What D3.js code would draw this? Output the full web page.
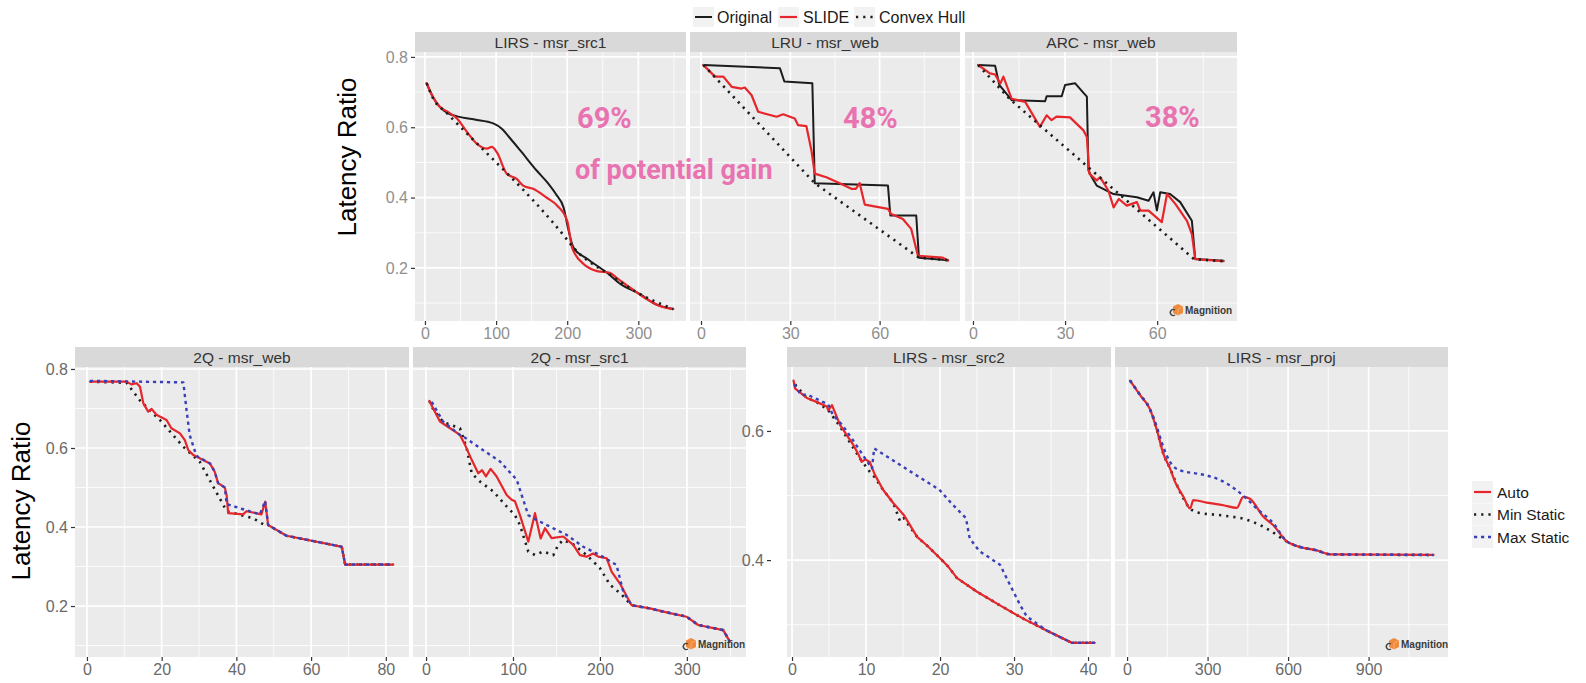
<!DOCTYPE html>
<html>
<head>
<meta charset="utf-8">
<script src="https://cdn.jsdelivr.net/npm/d3@7"></script>
<style>
body { margin:0; background:#fff; }
svg { display:block; font-family: "Liberation Sans", Arial, sans-serif; }
</style>
</head>
<body>
<svg width="1586" height="683"></svg>
<script>
// ---- top row: Original / SLIDE / Convex Hull ----
var lirsSrc1Original = [[2.4,0.725],[11,0.687],[20,0.66],[32,0.64],[45,0.631],[70,0.622],[96,0.611],[108,0.596],[120,0.568],[134,0.534],[157,0.477],[172,0.443],[184,0.41],[195,0.371],[201,0.314],[209,0.257],[228,0.226],[256,0.186],[275,0.154],[303,0.125],[321,0.1],[349,0.083]];
var lirsSrc1Slide = [[2.4,0.725],[11,0.687],[20,0.66],[31,0.645],[45,0.625],[59,0.587],[73,0.553],[87,0.539],[94,0.544],[101,0.529],[115,0.468],[129,0.453],[138,0.434],[152,0.425],[171,0.40],[186,0.377],[200,0.334],[207,0.257],[223,0.211],[242,0.191],[260,0.186],[270,0.171],[289,0.143],[312,0.111],[331,0.091],[349,0.083]];
var lirsSrc1Hull = [[2.4,0.725],[12,0.68],[30,0.642],[200,0.28],[209,0.257],[228,0.222],[256,0.186],[300,0.128],[349,0.083]];

var lruWebOriginal = [[0.8,0.777],[26.5,0.768],[28,0.73],[37.4,0.725],[38.2,0.441],[62.8,0.434],[63.6,0.349],[72.3,0.349],[73.2,0.229],[83,0.222]];
var lruWebSlide = [[0.8,0.777],[1.5,0.771],[4.7,0.744],[7.5,0.744],[10.3,0.715],[13.6,0.71],[14.7,0.713],[17,0.691],[19.2,0.644],[25.4,0.63],[27.6,0.637],[31.5,0.625],[32.6,0.606],[35.4,0.603],[37.1,0.534],[38.2,0.468],[42.1,0.458],[46.6,0.441],[50.5,0.425],[52,0.425],[53.3,0.441],[55,0.38],[62.8,0.368],[63.9,0.353],[67.8,0.339],[70.6,0.311],[72.9,0.234],[81.2,0.229],[83,0.221]];
var lruWebHull = [[0.8,0.777],[4.4,0.745],[38.2,0.441],[73.2,0.229],[83,0.222]];

var arcWebOriginal = [[1.7,0.777],[7.2,0.775],[8.6,0.72],[9.9,0.706],[12.6,0.677],[23.5,0.674],[24,0.688],[28.9,0.688],[30,0.72],[33.3,0.725],[36,0.698],[37.1,0.687],[37.6,0.477],[38.7,0.458],[40.3,0.434],[45.8,0.41],[53.4,0.401],[57.2,0.391],[58.8,0.415],[59.9,0.363],[61,0.415],[64.2,0.41],[67.5,0.387],[71.3,0.334],[72.4,0.225],[81.6,0.22]];
var arcWebSlide = [[1.7,0.777],[5.5,0.753],[7.2,0.75],[8.9,0.724],[9.9,0.744],[12.6,0.681],[17,0.672],[21.8,0.601],[24,0.634],[25.6,0.62],[27.2,0.63],[31.6,0.628],[36,0.591],[37.1,0.572],[37.9,0.468],[40.3,0.449],[41.4,0.458],[44.1,0.42],[45.8,0.372],[47.5,0.396],[50.1,0.377],[53.4,0.387],[54.5,0.363],[57.2,0.363],[61.5,0.33],[63.2,0.41],[65.9,0.382],[69.7,0.334],[71.3,0.296],[72.4,0.225],[81.6,0.219]];
var arcWebHull = [[1.7,0.777],[12,0.68],[72,0.225],[81.6,0.219]];

// ---- bottom row: Auto / Min Static / Max Static ----
var q2WebAuto = [[0.8,0.768],[10.6,0.768],[11.9,0.761],[13.3,0.764],[14.2,0.755],[15.1,0.713],[16.4,0.692],[17.3,0.699],[18.6,0.684],[21.3,0.671],[22.6,0.65],[24.9,0.637],[26.2,0.62],[27.1,0.595],[28.5,0.582],[32.9,0.561],[34.2,0.54],[35.1,0.511],[36.9,0.5],[37.4,0.48],[37.8,0.435],[41.8,0.432],[42.7,0.44],[46.7,0.432],[47.7,0.464],[48.5,0.405],[53.4,0.378],[68.2,0.35],[69.1,0.305],[82,0.305]];
var q2WebMin = [[0.8,0.768],[10.6,0.765],[14.2,0.72],[19.5,0.671],[25.8,0.603],[30.2,0.565],[37.4,0.44],[44.5,0.422],[48.1,0.402],[48.5,0.405],[53.4,0.378],[68.2,0.35],[69.1,0.305],[82,0.305]];
var q2WebMax = [[0.8,0.77],[25.8,0.766],[26.7,0.692],[27.5,0.633],[29.3,0.58],[32.9,0.561],[34.2,0.54],[35.1,0.511],[36.9,0.5],[37.4,0.458],[41.8,0.445],[46.3,0.432],[47.7,0.466],[48.5,0.405],[53.4,0.378],[68.2,0.35],[69.1,0.305],[82,0.305]];

var q2Src1Auto = [[3.8,0.719],[16,0.667],[27.6,0.65],[39,0.633],[44.8,0.608],[52.5,0.57],[60,0.536],[64.4,0.544],[68.9,0.528],[74.3,0.547],[81.2,0.528],[92.7,0.481],[98.5,0.469],[102.3,0.465],[108,0.43],[117.6,0.363],[125.3,0.435],[131.8,0.371],[136.8,0.397],[144.4,0.372],[157.8,0.376],[169.3,0.355],[177,0.329],[184.7,0.325],[192.3,0.333],[198,0.325],[207.7,0.321],[213.4,0.287],[223,0.257],[236.4,0.202],[257.5,0.194],[276.6,0.184],[299.6,0.173],[313,0.152],[341.8,0.139],[349.4,0.11]];
var q2Src1Min = [[3.8,0.719],[8.4,0.697],[20,0.665],[39,0.65],[46.7,0.6],[52.5,0.536],[62,0.515],[77.4,0.49],[92.7,0.452],[102.3,0.43],[108,0.405],[117.6,0.338],[125.3,0.329],[134.9,0.338],[146.4,0.329],[152.1,0.355],[157.9,0.367],[170,0.355],[184.7,0.329],[200,0.296],[211.5,0.254],[224.9,0.229],[236.4,0.202],[257.5,0.194],[276.6,0.184],[299.6,0.173],[313,0.152],[341.8,0.139],[349.4,0.11]];
var q2Src1Max = [[6.5,0.717],[19.5,0.667],[39,0.633],[42.8,0.629],[62,0.6],[85,0.566],[104.2,0.52],[110,0.481],[117.6,0.43],[123.4,0.422],[142.5,0.401],[161.7,0.38],[180.8,0.35],[200,0.329],[219,0.304],[226.8,0.237],[236.4,0.202],[257.5,0.194],[276.6,0.184],[299.6,0.173],[313,0.152],[341.8,0.139],[349.4,0.11]];

var lirsSrc2Auto = [[0.2,0.678],[0.4,0.666],[2,0.651],[3.3,0.645],[4.7,0.638],[4.9,0.632],[5.4,0.64],[6.5,0.609],[8.3,0.578],[9,0.563],[9.4,0.552],[9.9,0.556],[10.5,0.552],[11.2,0.532],[12.3,0.509],[13.7,0.488],[15.1,0.47],[16.9,0.436],[18.2,0.423],[20,0.403],[21.1,0.39],[22.3,0.372],[25,0.351],[28.1,0.33],[31.3,0.309],[34.4,0.291],[37.8,0.272],[40.9,0.272]];
var lirsSrc2Min = [[0.4,0.672],[2,0.651],[3.3,0.645],[4.9,0.632],[6.3,0.61],[9.2,0.557],[10.5,0.537],[11.2,0.528],[12.3,0.509],[13.7,0.488],[14.6,0.46],[15.1,0.465],[16.9,0.436],[18.2,0.423],[20,0.403],[21.1,0.39],[22.3,0.372],[25,0.351],[28.1,0.33],[31.3,0.309],[34.4,0.291],[37.8,0.272],[40.9,0.272]];
var lirsSrc2Max = [[0.3,0.672],[1.2,0.656],[2.1,0.656],[4.9,0.641],[5.5,0.625],[6.8,0.609],[8.1,0.588],[9.9,0.557],[10.8,0.542],[11.1,0.573],[16.7,0.532],[19.9,0.509],[21.7,0.486],[23.5,0.465],[24,0.434],[25.3,0.414],[28.1,0.393],[29,0.372],[30.8,0.331],[31.7,0.313],[34.4,0.291],[37.8,0.272],[40.9,0.272]];

var lirsProjAuto = [[11,0.678],[48,0.656],[86,0.633],[112,0.6],[135,0.565],[160,0.542],[178,0.522],[210,0.498],[235,0.48],[247,0.493],[297,0.489],[359,0.485],[409,0.481],[433,0.498],[458,0.495],[508,0.467],[545,0.454],[595,0.429],[632,0.422],[707,0.415],[757,0.409],[1142,0.408]];
var lirsProjMin = [[11,0.678],[48,0.656],[86,0.633],[112,0.6],[135,0.565],[160,0.542],[197,0.506],[235,0.48],[260,0.474],[359,0.469],[433,0.464],[470,0.459],[532,0.446],[595,0.429],[632,0.422],[707,0.415],[757,0.409],[1142,0.408]];
var lirsProjMax = [[11,0.678],[48,0.656],[86,0.633],[112,0.605],[131,0.58],[160,0.552],[197,0.539],[260,0.534],[297,0.531],[347,0.524],[409,0.508],[446,0.495],[483,0.48],[545,0.457],[595,0.429],[632,0.422],[707,0.415],[757,0.409],[1142,0.408]];

// ---- tick labels / legends ----
var yTicksTop = [0.2, 0.4, 0.6, 0.8];
var yTicksBottomRight = [0.4, 0.6];
var topLegend = ["Original", "SLIDE", "Convex Hull"];
var bottomLegend = ["Auto", "Min Static", "Max Static"];
var gains = ["69%", "48%", "38%"];

var RED = "#e6262a", BLACK = "#1c1c1c", BLUE = "#3b3fb8";
var styles = {
	solidBlack: { stroke: BLACK, width: 2, dash: null },
	solidRed:   { stroke: RED, width: 2.2, dash: null },
	dotBlack:   { stroke: BLACK, width: 2.6, dash: "2.2,5" },
	dotBlue:    { stroke: BLUE, width: 2.4, dash: "3.2,3.8" }
};

var rows = {
	top: { y0: 52, y1: 321, yd: [0.049, 0.814], yt: yTicksTop, ym: [0.1, 0.3, 0.5, 0.7], lab: "#8f8f8f" },
	bl:  { y0: 367, y1: 657, yd: [0.071, 0.805], yt: yTicksTop, ym: [0.1, 0.3, 0.5, 0.7], lab: "#6a6a6a" },
	br:  { y0: 367, y1: 657, yd: [0.25, 0.699], yt: yTicksBottomRight, ym: [0.3, 0.5], lab: "#6a6a6a" }
};

var panels = [
	{ title: "LIRS - msr_src1", row: "top", x0: 415, x1: 686, xd: [-14, 367], xt: [0,100,200,300], xm: [50,150,250,350],
	  series: [[lirsSrc1Original,"solidBlack"],[lirsSrc1Slide,"solidRed"],[lirsSrc1Hull,"dotBlack"]], yaxis: 415, smooth: true },
	{ title: "LRU - msr_web", row: "top", x0: 690, x1: 960, xd: [-3.7, 87], xt: [0,30,60], xm: [15,45,75],
	  series: [[lruWebOriginal,"solidBlack"],[lruWebSlide,"solidRed"],[lruWebHull,"dotBlack"]] },
	{ title: "ARC - msr_web", row: "top", x0: 965, x1: 1237, xd: [-2.6, 86], xt: [0,30,60], xm: [15,45,75],
	  series: [[arcWebOriginal,"solidBlack"],[arcWebSlide,"solidRed"],[arcWebHull,"dotBlack"]], logo: [1173, 310] },
	{ title: "2Q - msr_web", row: "bl", x0: 75, x1: 409, xd: [-3.2, 86.2], xt: [0,20,40,60,80], xm: [10,30,50,70],
	  series: [[q2WebMin,"dotBlack"],[q2WebAuto,"solidRed"],[q2WebMax,"dotBlue"]], yaxis: 75 },
	{ title: "2Q - msr_src1", row: "bl", x0: 413, x1: 746, xd: [-15, 368], xt: [0,100,200,300], xm: [50,150,250,350],
	  series: [[q2Src1Min,"dotBlack"],[q2Src1Auto,"solidRed"],[q2Src1Max,"dotBlue"]], logo: [686, 644] },
	{ title: "LIRS - msr_src2", row: "br", x0: 787, x1: 1111, xd: [-0.68, 43.1], xt: [0,10,20,30,40], xm: [5,15,25,35],
	  series: [[lirsSrc2Min,"dotBlack"],[lirsSrc2Auto,"solidRed"],[lirsSrc2Max,"dotBlue"]], yaxis: 771 },
	{ title: "LIRS - msr_proj", row: "br", x0: 1115, x1: 1448, xd: [-45, 1196], xt: [0,300,600,900], xm: [150,450,750,1050],
	  series: [[lirsProjMin,"dotBlack"],[lirsProjAuto,"solidRed"],[lirsProjMax,"dotBlue"]], logo: [1389, 644], smooth: true }
];

var svg = d3.select('svg');

function drawLogo(g, x, y){
	// little orange cube + dark hook, then the word
	g.append("path")
		.attr("d", "M" + (x+5) + "," + (y-6) + " l5,2.5 v6.5 l-5,2.5 l-5,-2.5 v-6.5 z")
		.attr("fill", "#f08a3c");
	g.append("path")
		.attr("d", "M" + (x+5) + "," + (y-1) + " l5,-2.5 M" + (x+5) + "," + (y-1) + " v6")
		.attr("stroke", "#f7b27a").attr("stroke-width", 0.8);
	g.append("path")
		.attr("d", "M" + (x+2) + "," + (y+5) + " a3,3 0 1,1 0,-5")
		.attr("fill", "none").attr("stroke", "#444").attr("stroke-width", 1.4);
	g.append("text").attr("x", x + 12).attr("y", y + 3.5)
		.attr("font-size", 10).attr("font-weight", "bold").attr("fill", "#3a3a3a")
		.text("Magnition");
}

panels.forEach(function(p){
	var r = rows[p.row];
	var x = d3.scaleLinear().domain(p.xd).range([p.x0, p.x1]);
	var y = d3.scaleLinear().domain(r.yd).range([r.y1, r.y0]);
	var g = svg.append("g");

	// panel + strip
	g.append("rect").attr("x", p.x0).attr("y", r.y0).attr("width", p.x1 - p.x0).attr("height", r.y1 - r.y0).attr("fill", "#ebebeb");
	g.append("rect").attr("x", p.x0).attr("y", r.y0 - 20).attr("width", p.x1 - p.x0).attr("height", 20).attr("fill", "#d9d9d9");
	g.append("text").attr("x", (p.x0 + p.x1) / 2).attr("y", r.y0 - 10).attr("dy", "0.36em")
		.attr("text-anchor", "middle").attr("font-size", 15.5).attr("fill", "#333").text(p.title);

	// grid
	g.selectAll(".xm").data(p.xm).enter().append("line")
		.attr("x1", x).attr("x2", x).attr("y1", r.y0).attr("y2", r.y1).attr("stroke", "#fff").attr("stroke-width", 0.8);
	g.selectAll(".ym").data(r.ym).enter().append("line")
		.attr("y1", y).attr("y2", y).attr("x1", p.x0).attr("x2", p.x1).attr("stroke", "#fff").attr("stroke-width", 0.8);
	g.selectAll(".xg").data(p.xt).enter().append("line")
		.attr("x1", x).attr("x2", x).attr("y1", r.y0).attr("y2", r.y1).attr("stroke", "#fff").attr("stroke-width", 1.7);
	g.selectAll(".yg").data(r.yt).enter().append("line")
		.attr("y1", y).attr("y2", y).attr("x1", p.x0).attr("x2", p.x1).attr("stroke", "#fff").attr("stroke-width", 1.7);

	// x axis
	var xa = g.append("g").attr("transform", "translate(0," + r.y1 + ")")
		.call(d3.axisBottom(x).tickValues(p.xt).tickSize(4).tickPadding(3).tickFormat(d3.format("d")));
	xa.select(".domain").remove();
	xa.selectAll("line").attr("stroke", "#333").attr("stroke-width", 1.2);
	xa.selectAll("text").attr("font-size", 16).attr("fill", r.lab).attr("font-family", null);

	if (p.yaxis !== undefined) {
		var ya = g.append("g").attr("transform", "translate(" + p.yaxis + ",0)")
			.call(d3.axisLeft(y).tickValues(r.yt).tickSize(4).tickPadding(3).tickFormat(d3.format(".1f")));
		ya.select(".domain").remove();
		ya.selectAll("line").attr("stroke", "#333").attr("stroke-width", 1.2);
		ya.selectAll("text").attr("font-size", 16).attr("fill", r.lab).attr("font-family", null);
	}

	var line = d3.line().x(function(d){ return x(d[0]) }).y(function(d){ return y(d[1]) });
	if (p.smooth) line.curve(d3.curveMonotoneX);
	p.series.forEach(function(s){
		var st = styles[s[1]];
		g.append("path").datum(s[0]).attr("d", line)
			.attr("fill", "none").attr("stroke", st.stroke).attr("stroke-width", st.width)
			.attr("stroke-dasharray", st.dash).attr("stroke-linejoin", "round")
			.attr("stroke-linecap", st.dash ? "butt" : "round");
	});

	if (p.logo) drawLogo(g, p.logo[0], p.logo[1]);
});

// y titles
svg.append("text").attr("transform", "translate(356,157) rotate(-90)").attr("text-anchor", "middle")
	.attr("font-size", 26).attr("fill", "#000").text("Latency Ratio");
svg.append("text").attr("transform", "translate(30,501) rotate(-90)").attr("text-anchor", "middle")
	.attr("font-size", 26).attr("fill", "#000").text("Latency Ratio");

// top legend
var topKeys = [
	{ x: 693, tx: 717, st: "solidBlack" },
	{ x: 778, tx: 803, st: "solidRed" },
	{ x: 854, tx: 879, st: "dotBlack" }
];
topLegend.forEach(function(name, i){
	var k = topKeys[i], st = styles[k.st];
	svg.append("rect").attr("x", k.x).attr("y", 7).attr("width", 21).attr("height", 20).attr("fill", "#f2f2f2");
	svg.append("line").attr("x1", k.x + 2).attr("x2", k.x + 19).attr("y1", 17).attr("y2", 17)
		.attr("stroke", st.stroke).attr("stroke-width", st.width).attr("stroke-dasharray", st.dash);
	svg.append("text").attr("x", k.tx).attr("y", 17).attr("dy", "0.36em").attr("font-size", 16).attr("fill", "#1a1a1a").text(name);
});

// right legend
var rightStyles = ["solidRed", "dotBlack", "dotBlue"];
bottomLegend.forEach(function(name, i){
	var cy = 492 + i * 22.5, st = styles[rightStyles[i]];
	svg.append("rect").attr("x", 1472).attr("y", cy - 11).attr("width", 21).attr("height", 22).attr("fill", "#f2f2f2");
	svg.append("line").attr("x1", 1474).attr("x2", 1491).attr("y1", cy).attr("y2", cy)
		.attr("stroke", st.stroke).attr("stroke-width", st.width).attr("stroke-dasharray", st.dash);
	svg.append("text").attr("x", 1497).attr("y", cy).attr("dy", "0.36em").attr("font-size", 15.5).attr("fill", "#1a1a1a").text(name);
});

// gain annotations
var gainPos = [[577, 128], [843, 128], [1145, 127]];
gains.forEach(function(t, i){
	svg.append("text").attr("x", gainPos[i][0]).attr("y", gainPos[i][1])
		.attr("font-family", "Roboto, sans-serif").attr("font-weight", "bold").attr("font-size", 29)
		.attr("fill", "#e972b1").text(t);
});
svg.append("text").attr("x", 575).attr("y", 179)
	.attr("font-family", "Roboto, sans-serif").attr("font-weight", "bold").attr("font-size", 27)
	.attr("fill", "#e972b1").text("of potential gain");
</script>
</body>
</html>
